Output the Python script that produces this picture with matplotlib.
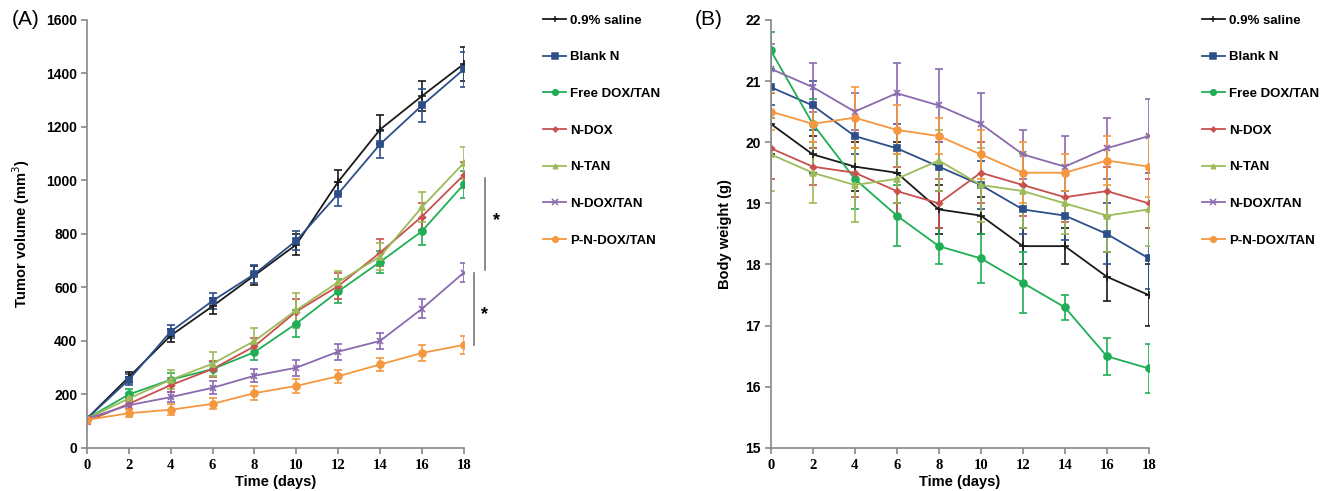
import matplotlib.pyplot as plt
from matplotlib.lines import Line2D

# Data
days = [0, 2, 4, 6, 8, 10, 12, 14, 16, 18]
groups = ['0.9% saline', 'Blank N', 'Free DOX/TAN', 'N-DOX', 'N-TAN', 'N-DOX/TAN', 'P-N-DOX/TAN']

# (A) tumor volume (mm3)
vol_saline = [110, 265, 420, 530, 645, 760, 995, 1190, 1315, 1435]
vol_blank = [110, 255, 435, 550, 650, 775, 950, 1135, 1280, 1415]
vol_free = [110, 200, 255, 295, 358, 465, 585, 695, 810, 985]
vol_ndox = [100, 165, 235, 295, 380, 510, 605, 730, 865, 1020]
vol_ntan = [110, 185, 255, 315, 400, 515, 620, 715, 900, 1065]
vol_ndoxtan = [110, 160, 190, 225, 270, 300, 360, 400, 520, 655]
vol_pn = [105, 130, 143, 165, 205, 232, 268, 312, 355, 385]

vol_err_saline = [10, 20, 25, 30, 35, 40, 45, 55, 55, 65]
vol_err_blank = [10, 20, 25, 30, 35, 35, 45, 50, 60, 65]
vol_err_free = [10, 20, 25, 25, 30, 50, 45, 40, 50, 50]
vol_err_ndox = [10, 20, 25, 30, 30, 45, 50, 50, 50, 50]
vol_err_ntan = [10, 20, 35, 45, 50, 65, 40, 50, 55, 60]
vol_err_ndoxtan = [10, 15, 20, 25, 25, 30, 30, 30, 35, 35]
vol_err_pn = [10, 15, 20, 20, 25, 25, 25, 25, 30, 35]

# (B) body weight (g)
bw_saline = [20.3, 19.8, 19.6, 19.5, 18.9, 18.8, 18.3, 18.3, 17.8, 17.5]
bw_blank = [20.9, 20.6, 20.1, 19.9, 19.6, 19.3, 18.9, 18.8, 18.5, 18.1]
bw_free = [21.5, 20.3, 19.4, 18.8, 18.3, 18.1, 17.7, 17.3, 16.5, 16.3]
bw_ndox = [19.9, 19.6, 19.5, 19.2, 19.0, 19.5, 19.3, 19.1, 19.2, 19.0]
bw_ntan = [19.8, 19.5, 19.3, 19.4, 19.7, 19.3, 19.2, 19.0, 18.8, 18.9]
bw_ndoxtan = [21.2, 20.9, 20.5, 20.8, 20.6, 20.3, 19.8, 19.6, 19.9, 20.1]
bw_pn = [20.5, 20.3, 20.4, 20.2, 20.1, 19.8, 19.5, 19.5, 19.7, 19.6]

bw_err_saline = [0.5, 0.3, 0.4, 0.5, 0.4, 0.3, 0.3, 0.3, 0.4, 0.5]
bw_err_blank = [0.3, 0.4, 0.3, 0.4, 0.4, 0.4, 0.4, 0.4, 0.5, 0.5]
bw_err_free = [0.3, 0.4, 0.5, 0.5, 0.3, 0.4, 0.5, 0.2, 0.3, 0.4]
bw_err_ndox = [0.5, 0.3, 0.4, 0.4, 0.4, 0.5, 0.5, 0.4, 0.4, 0.4]
bw_err_ntan = [0.6, 0.5, 0.6, 0.4, 0.5, 0.6, 0.6, 0.5, 0.6, 0.6]
bw_err_ndoxtan = [0.4, 0.4, 0.3, 0.5, 0.6, 0.5, 0.4, 0.5, 0.5, 0.6]
bw_err_pn = [0.3, 0.3, 0.5, 0.4, 0.3, 0.4, 0.5, 0.3, 0.4, 0.5]

colors = ['#1a1a1a', '#2c4f8a', '#1fae55', '#c8504d', '#9cbb59', '#8a6aae', '#f4973f']
markers = ['+', 's', 'o', 'D', '^', 'x', 'o']
msizes = [6, 5, 5, 3, 4, 5, 5]

vol_data = [vol_saline, vol_blank, vol_free, vol_ndox, vol_ntan, vol_ndoxtan, vol_pn]
vol_errs = [vol_err_saline, vol_err_blank, vol_err_free, vol_err_ndox, vol_err_ntan, vol_err_ndoxtan, vol_err_pn]
bw_data = [bw_saline, bw_blank, bw_free, bw_ndox, bw_ntan, bw_ndoxtan, bw_pn]
bw_errs = [bw_err_saline, bw_err_blank, bw_err_free, bw_err_ndox, bw_err_ntan, bw_err_ndoxtan, bw_err_pn]

sans = 'Liberation Sans'
serif = 'Liberation Serif'

fig = plt.figure(figsize=(13.22, 4.91), dpi=100)
ax_a = fig.add_axes([0.0658, 0.0876, 0.285, 0.872])
ax_b = fig.add_axes([0.583, 0.0876, 0.286, 0.872])


def draw_panel(ax, data, errs, ylim, yticks, ylabel, tag, leg_x):
    for i, name in enumerate(groups):
        ax.errorbar(days, data[i], yerr=errs[i], color=colors[i], marker=markers[i],
                    markersize=msizes[i], markeredgewidth=1.2, linewidth=1.3,
                    elinewidth=1.2, capsize=3, capthick=1.2)
    ax.set_xlim(0, 18)
    ax.set_ylim(*ylim)
    ax.set_xticks(days)
    ax.set_yticks(yticks)
    ax.set_xticklabels([str(d) for d in days], fontfamily=serif, fontweight='bold', fontsize=10.5)
    ax.set_yticklabels([str(t) for t in yticks], fontfamily=sans, fontweight='bold', fontsize=10)
    for s in ['top', 'right']:
        ax.spines[s].set_visible(False)
    for s in ['left', 'bottom']:
        ax.spines[s].set_color('#888888')
        ax.spines[s].set_linewidth(1.2)
    ax.tick_params(direction='out', length=4, color='#888888', width=1.2)
    ax.tick_params(axis='x', pad=4)
    ax.tick_params(axis='y', pad=3)
    ax.set_xlabel('Time (days)', fontfamily=sans, fontweight='bold', fontsize=10.5, labelpad=2)
    ax.set_ylabel(ylabel, fontfamily=sans, fontweight='bold', fontsize=10.5, labelpad=10)
    ax.text(-0.2, 1.0, tag, transform=ax.transAxes, fontfamily=sans, fontsize=15,
            ha='left', va='center')
    # legend shows line + marker only, no error bar
    handles = [Line2D([], [], color=colors[i], marker=markers[i], markersize=msizes[i] * 0.8,
                      markeredgewidth=1.1, linewidth=1.3) for i in range(len(groups))]
    ax.legend(handles, groups, loc='upper left', bbox_to_anchor=(leg_x, 1.04), frameon=False,
              prop={'family': sans, 'weight': 'bold', 'size': 9.5},
              labelspacing=1.85, handlelength=1.7, handletextpad=0.3)


draw_panel(ax_a, vol_data, vol_errs, (0, 1600), [0, 200, 400, 600, 800, 1000, 1200, 1400, 1600],
           'Tumor volume (mm$^3$)', '(A)', 1.18)
draw_panel(ax_b, bw_data, bw_errs, (15, 22), [15, 16, 17, 18, 19, 20, 21, 22],
           'Body weight (g)', '(B)', 1.11)

# significance brackets in panel A
ax_a.plot([19.0, 19.0], [665, 1010], color='#777777', linewidth=1.2, clip_on=False)
ax_a.text(19.55, 850, '*', fontfamily=sans, fontweight='bold', fontsize=13, ha='center', va='center')
ax_a.plot([18.5, 18.5], [385, 655], color='#777777', linewidth=1.2, clip_on=False)
ax_a.text(19.0, 500, '*', fontfamily=sans, fontweight='bold', fontsize=13, ha='center', va='center')

fig.savefig('out.png', dpi=100)
